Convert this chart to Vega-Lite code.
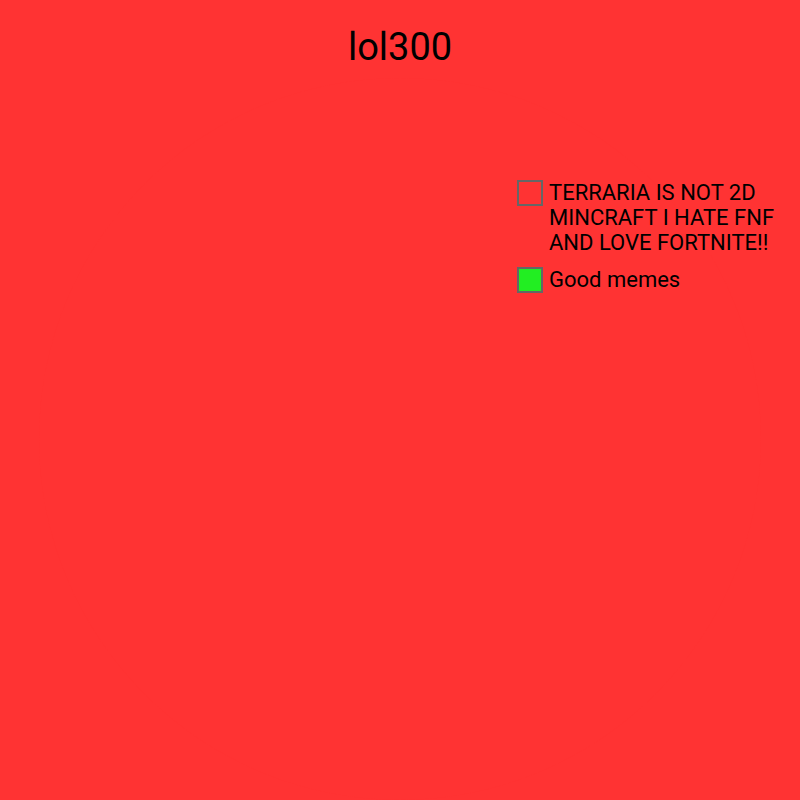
{
  "$schema": "https://vega.github.io/schema/vega-lite/v6.json",
  "width": 800,
  "height": 800,
  "autosize": {"type": "fit", "contains": "padding"},
  "padding": {"top": 30, "left": 0, "right": 0, "bottom": 0},
  "background": "#ff3333",
  "title": {"text": "lol300", "font": "Roboto", "fontSize": 38, "fontWeight": "normal", "color": "#000000", "anchor": "middle", "offset": 10},
  "data": {"values": [
    {"label": "TERRARIA IS NOT 2D MINCRAFT I HATE FNF AND LOVE FORTNITE!!", "value": 100},
    {"label": "Good memes", "value": 0}
  ]},
  "mark": {"type": "arc", "stroke": null},
  "encoding": {
    "theta": {"field": "value", "type": "quantitative", "stack": true},
    "color": {
      "field": "label", "type": "nominal", "sort": null,
      "scale": {"domain": ["TERRARIA IS NOT 2D MINCRAFT I HATE FNF AND LOVE FORTNITE!!", "Good memes"], "range": ["#ff3333", "#22ee22"]},
      "legend": {
        "title": null, "orient": "none", "legendX": 517, "legendY": 102,
        "symbolType": "square", "symbolSize": 576, "symbolStrokeColor": "#666666", "symbolStrokeWidth": 2, "symbolOpacity": 1,
        "labelFont": "Roboto", "labelFontSize": 22, "labelColor": "#000000", "labelLimit": 400, "labelOffset": 6,
        "rowPadding": 10, "labelBaseline": "middle",
        "labelExpr": "datum.label == 'Good memes' ? datum.label : ['TERRARIA IS NOT 2D', 'MINCRAFT I HATE FNF', 'AND LOVE FORTNITE!!']"
      }
    }
  },
  "config": {"view": {"stroke": null}, "style": {"guide-label": {"lineHeight": 25}}}
}
